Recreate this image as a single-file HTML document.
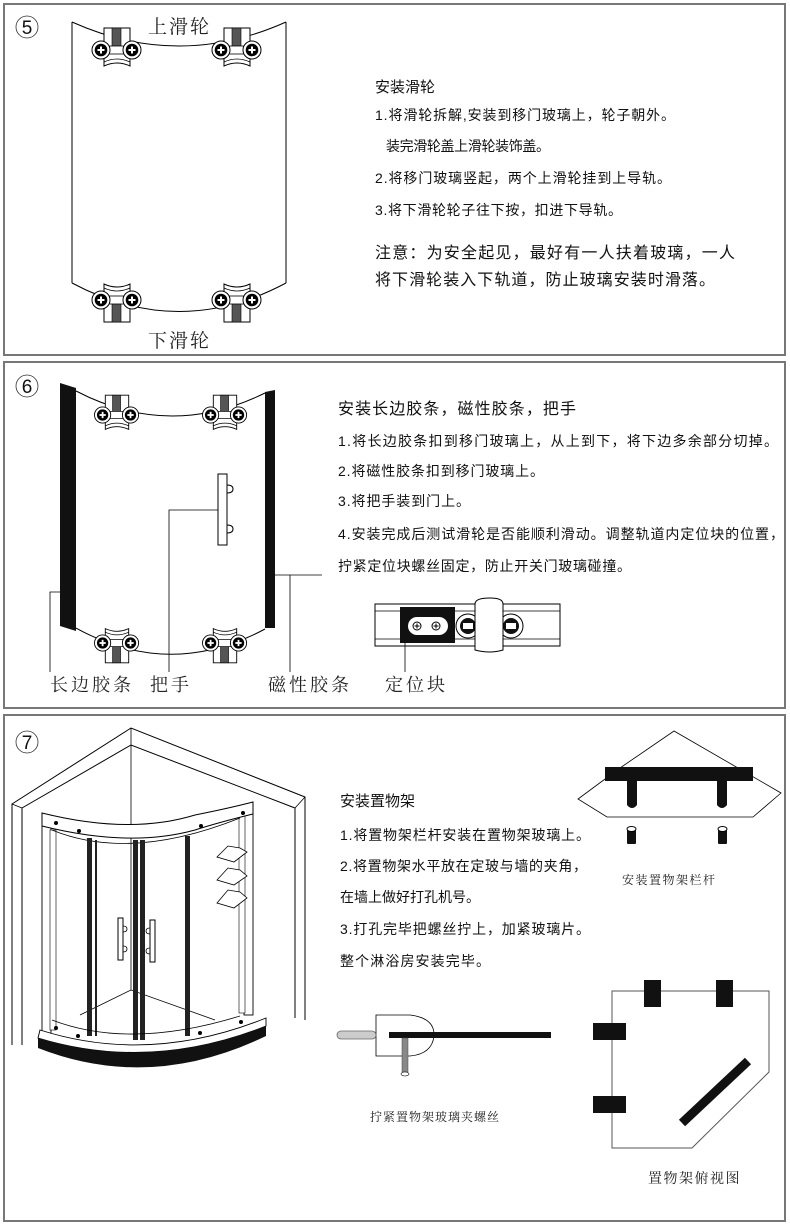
<!DOCTYPE html>
<html><head><meta charset="utf-8"><style>
html,body{margin:0;padding:0;background:#fff;}
svg{display:block;}
.t{font-family:"Liberation Sans","Noto Sans CJK SC",sans-serif;fill:#111;}
.s{font-family:"Liberation Serif","Noto Serif CJK SC",serif;fill:#222;}
</style></head><body>
<svg width="790" height="1226" viewBox="0 0 790 1226" xmlns="http://www.w3.org/2000/svg">
<defs>
<g id="scr">
  <circle r="9" fill="#fff" stroke="#000" stroke-width="1"/>
  <circle r="6.3" fill="#000"/>
  <rect x="-3.5" y="-1" width="7" height="2" fill="#fff"/>
  <rect x="-1" y="-3.5" width="2" height="7" fill="#fff"/>
</g>
<g id="roller">
  <path d="M-13,-22 L13,-22 L13,16 Q0,10 -13,16 Z" fill="#fff" stroke="#000" stroke-width="1"/>
  <path d="M-13,12 Q0,6 13,12" fill="none" stroke="#000" stroke-width="0.8"/>
  <rect x="-5" y="-22" width="9" height="20" fill="#555" stroke="#000" stroke-width="0.6"/>
  <rect x="-8" y="-4" width="16" height="8" fill="#fff" stroke="#000" stroke-width="0.8"/>
  <use href="#scr" x="-16" y="0"/>
  <use href="#scr" x="15" y="0"/>
</g>
</defs>

<!-- panel borders -->
<rect x="4" y="4" width="781" height="351" fill="none" stroke="#777" stroke-width="2"/>
<rect x="4" y="362" width="781" height="346" fill="none" stroke="#777" stroke-width="2"/>
<rect x="4" y="715" width="781" height="506" fill="none" stroke="#777" stroke-width="2"/>

<!-- ===== Panel 5 ===== -->
<circle cx="27" cy="27" r="11" fill="none" stroke="#333" stroke-width="0.8"/>
<text x="27" y="34" class="t" font-size="19" text-anchor="middle">5</text>
<path d="M72,22 L72,283 M286,22 L286,283" stroke="#000" stroke-width="1" fill="none"/>
<path d="M72,22 Q179,70 286,22" stroke="#000" stroke-width="1" fill="none"/>
<path d="M72,283 Q179,340 286,283" stroke="#000" stroke-width="1" fill="none"/>
<use href="#roller" x="117" y="50"/>
<use href="#roller" x="237" y="50"/>
<use href="#roller" transform="translate(117,300) scale(1,-1)"/>
<use href="#roller" transform="translate(237,300) scale(1,-1)"/>
<text x="148" y="33" class="s" font-size="19" letter-spacing="2">上滑轮</text>
<text x="148" y="347" class="s" font-size="19" letter-spacing="2">下滑轮</text>

<text x="375" y="92" class="t" font-size="15">安装滑轮</text>
<text x="375" y="120" class="t" font-size="14" textLength="300">1.将滑轮拆解,安装到移门玻璃上，轮子朝外。</text>
<text x="386" y="151" class="t" font-size="14" textLength="164">装完滑轮盖上滑轮装饰盖。</text>
<text x="375" y="183" class="t" font-size="14" textLength="296">2.将移门玻璃竖起，两个上滑轮挂到上导轨。</text>
<text x="375" y="215" class="t" font-size="14" textLength="247">3.将下滑轮轮子往下按，扣进下导轨。</text>
<text x="375" y="258" class="t" font-size="16" textLength="360">注意：为安全起见，最好有一人扶着玻璃，一人</text>
<text x="375" y="285" class="t" font-size="16" textLength="340">将下滑轮装入下轨道，防止玻璃安装时滑落。</text>

<!-- ===== Panel 6 ===== -->
<circle cx="27" cy="386" r="11" fill="none" stroke="#333" stroke-width="0.8"/>
<text x="27" y="393" class="t" font-size="19" text-anchor="middle">6</text>
<polygon points="60,383 76,388 76,631 60,626" fill="#111"/>
<polygon points="265,392 275,390 275,628 265,628" fill="#111"/>
<path d="M76,391 Q170,440 265,393" stroke="#000" stroke-width="1" fill="none"/>
<path d="M76,628 Q170,680 265,629" stroke="#000" stroke-width="1" fill="none"/>
<use href="#roller" transform="translate(117,415) scale(0.9)"/>
<use href="#roller" transform="translate(225,415) scale(0.9)"/>
<use href="#roller" transform="translate(117,643) scale(0.9,-0.9)"/>
<use href="#roller" transform="translate(225,643) scale(0.9,-0.9)"/>
<rect x="218" y="474" width="9" height="71" fill="#fff" stroke="#000" stroke-width="1"/>
<path d="M227,485 q6,0 6,4 q0,4 -6,4 M227,525 q6,0 6,4 q0,4 -6,4" stroke="#000" fill="none" stroke-width="1"/>
<path d="M60,592 L50,592 L50,672" stroke="#000" fill="none" stroke-width="0.8"/>
<path d="M218,510 L169,510 L169,672" stroke="#000" fill="none" stroke-width="0.8"/>
<path d="M275,575 L322,575" stroke="#000" fill="none" stroke-width="0.8"/>
<path d="M290,575 L290,672" stroke="#000" fill="none" stroke-width="0.8"/>
<text x="50" y="691" class="s" font-size="18" letter-spacing="3">长边胶条</text>
<text x="150" y="691" class="s" font-size="18" letter-spacing="3">把手</text>
<text x="268" y="691" class="s" font-size="18" letter-spacing="3">磁性胶条</text>
<text x="385" y="691" class="s" font-size="18" letter-spacing="3">定位块</text>

<text x="338" y="414" class="t" font-size="16" textLength="238">安装长边胶条，磁性胶条，把手</text>
<text x="338" y="446" class="t" font-size="14" textLength="440">1.将长边胶条扣到移门玻璃上，从上到下，将下边多余部分切掉。</text>
<text x="338" y="476" class="t" font-size="14" textLength="206">2.将磁性胶条扣到移门玻璃上。</text>
<text x="338" y="506" class="t" font-size="14" textLength="132">3.将把手装到门上。</text>
<text x="338" y="539" class="t" font-size="14" textLength="446">4.安装完成后测试滑轮是否能顺利滑动。调整轨道内定位块的位置，</text>
<text x="338" y="571" class="t" font-size="14" textLength="293">拧紧定位块螺丝固定，防止开关门玻璃碰撞。</text>

<!-- track -->
<rect x="375" y="604" width="185" height="42" fill="#fff" stroke="#000" stroke-width="1"/>
<path d="M375,611 L560,611 M375,639 L560,639" stroke="#000" stroke-width="0.8"/>
<rect x="400" y="607" width="55" height="36" fill="#111"/>
<rect x="408" y="617" width="40" height="18" rx="9" fill="#fff"/>
<circle cx="417" cy="626" r="4" fill="#fff" stroke="#000"/><path d="M414.5,626h5M417,623.5v5" stroke="#000"/>
<circle cx="436" cy="626" r="4" fill="#fff" stroke="#000"/><path d="M433.5,626h5M436,623.5v5" stroke="#000"/>
<circle cx="468" cy="626" r="12" fill="#fff" stroke="#000"/><circle cx="468" cy="626" r="8" fill="#111"/><rect x="463" y="623" width="10" height="6" fill="#fff"/>
<circle cx="511" cy="626" r="12" fill="#fff" stroke="#000"/><circle cx="511" cy="626" r="8" fill="#111"/><rect x="506" y="623" width="10" height="6" fill="#fff"/>
<path d="M475,604 Q475,598 490,598 Q503,598 503,604 L503,650 Q490,654 475,650 Z" fill="#fff" stroke="#000" stroke-width="1"/>
<path d="M405,643 L405,672" stroke="#000" stroke-width="0.8"/>

<!-- ===== Panel 7 ===== -->
<circle cx="27" cy="742" r="11" fill="none" stroke="#333" stroke-width="0.8"/>
<text x="27" y="749" class="t" font-size="19" text-anchor="middle">7</text>
<!-- walls -->
<path d="M12,1045 L12,804 L131,728 L305,797 L305,1020" fill="#fff" stroke="#000" stroke-width="1"/>
<path d="M22,1045 L22,808 L131,745 L295,808 L295,1018" fill="none" stroke="#000" stroke-width="1"/>
<path d="M12,804 L22,808 M305,797 L295,808 M131,728 L131,745" stroke="#000" stroke-width="0.8"/>
<path d="M131,745 L131,990" stroke="#000" stroke-width="0.8"/>
<path d="M80,1015 L131,990 L215,1020" stroke="#000" stroke-width="0.8" fill="none"/>
<!-- frame sides -->
<rect x="42" y="815" width="9" height="218" fill="#fff" stroke="#000" stroke-width="0.9"/>
<rect x="50" y="830" width="6" height="200" fill="#fff" stroke="#000" stroke-width="0.6"/>
<rect x="244" y="805" width="9" height="210" fill="#fff" stroke="#000" stroke-width="0.9"/>
<rect x="239" y="815" width="6" height="198" fill="#fff" stroke="#000" stroke-width="0.6"/>
<!-- top header -->
<path d="M42,813 Q130,835 195,815 Q230,808 253,802 L253,814 Q220,822 195,830 Q130,848 42,826 Z" fill="#fff" stroke="#000" stroke-width="1"/>
<path d="M52,830 Q130,862 240,818" fill="none" stroke="#000" stroke-width="0.8"/>
<circle cx="56" cy="823" r="2" fill="#000"/><circle cx="79" cy="831" r="2" fill="#000"/>
<circle cx="201" cy="826" r="2" fill="#000"/><circle cx="243" cy="813" r="2" fill="#000"/>
<!-- doors -->
<rect x="87" y="838" width="5" height="198" fill="#222"/>
<rect x="95" y="840" width="2" height="196" fill="#222"/>
<rect x="133" y="840" width="5" height="200" fill="#222"/>
<rect x="140" y="840" width="5" height="200" fill="#222"/>
<rect x="185" y="836" width="5" height="200" fill="#222"/>
<rect x="118" y="918" width="5" height="42" fill="#fff" stroke="#000"/>
<rect x="150" y="920" width="5" height="42" fill="#fff" stroke="#000"/>
<path d="M123,926 q4,0 4,3 q0,3 -4,3 M123,946 q4,0 4,3 q0,3 -4,3 M150,928 q-4,0 -4,3 q0,3 4,3 M150,948 q-4,0 -4,3 q0,3 4,3" stroke="#000" fill="none" stroke-width="0.8"/>
<!-- bottom track -->
<path d="M52,1020 Q130,1050 240,1016" fill="none" stroke="#000" stroke-width="0.8"/>
<circle cx="56" cy="1028" r="2" fill="#000"/><circle cx="78" cy="1036" r="2" fill="#000"/>
<circle cx="200" cy="1033" r="2" fill="#000"/><circle cx="241" cy="1022" r="2" fill="#000"/>
<path d="M40,1030 Q150,1065 266,1018 L266,1026 Q150,1072 38,1038 Z" fill="#fff" stroke="#000" stroke-width="0.9"/>
<path d="M38,1038 Q150,1072 266,1026 L266,1036 Q150,1092 38,1048 Z" fill="#111"/>
<!-- shelves -->
<g fill="#fff" stroke="#000" stroke-width="0.8">
<path d="M217,857 L228,846 L240,848 L247,852 L234,862 Z"/>
<path d="M217,880 L228,868 L240,870 L247,876 L234,885 Z"/>
<path d="M217,903 L228,890 L240,892 L247,898 L234,908 Z"/>
</g>

<text x="340" y="806" class="t" font-size="15">安装置物架</text>
<text x="340" y="840" class="t" font-size="14" textLength="250">1.将置物架栏杆安装在置物架玻璃上。</text>
<text x="340" y="871" class="t" font-size="14" textLength="247">2.将置物架水平放在定玻与墙的夹角，</text>
<text x="340" y="902" class="t" font-size="14" textLength="140">在墙上做好打孔机号。</text>
<text x="340" y="934" class="t" font-size="14" textLength="250">3.打孔完毕把螺丝拧上，加紧玻璃片。</text>
<text x="340" y="966" class="t" font-size="14" textLength="150">整个淋浴房安装完毕。</text>

<!-- shelf rail -->
<polygon points="674,731 738,768 781,793 753,817 607,817 578,799 620,768" fill="none" stroke="#000" stroke-width="0.8"/>
<rect x="605" y="767" width="148" height="14" fill="#111"/>
<path d="M627,781 L627,805 Q632,811 637,805 L637,781 Z M717,781 L717,805 Q722,811 727,805 L727,781 Z" fill="#111"/>
<rect x="627" y="829" width="9" height="15" rx="1" fill="#111"/><ellipse cx="631.5" cy="829" rx="4.5" ry="2.5" fill="#fff" stroke="#000"/>
<rect x="718" y="829" width="9" height="15" rx="1" fill="#111"/><ellipse cx="722.5" cy="829" rx="4.5" ry="2.5" fill="#fff" stroke="#000"/>
<text x="622" y="884" class="s" font-size="12" letter-spacing="1.5">安装置物架栏杆</text>

<!-- clamp -->
<path d="M376,1015 L410,1015 Q435,1018 434,1036 Q432,1054 410,1056 L376,1056 Z" fill="#fff" stroke="#000" stroke-width="0.8"/>
<rect x="337" y="1031" width="39" height="8" rx="4" fill="#ccc" stroke="#666" stroke-width="0.8"/>
<rect x="389" y="1032" width="162" height="6" fill="#111"/>
<rect x="402" y="1038" width="6" height="34" fill="#888" stroke="#444" stroke-width="0.5"/>
<ellipse cx="405" cy="1074" rx="4" ry="2" fill="#fff" stroke="#000" stroke-width="0.6"/>
<text x="370" y="1121" class="s" font-size="12" letter-spacing="1">拧紧置物架玻璃夹螺丝</text>

<!-- top view -->
<polygon points="612,991 769,991 769,1072 692,1148 612,1148" fill="none" stroke="#555" stroke-width="1"/>
<rect x="644" y="980" width="17" height="27" fill="#111"/>
<rect x="716" y="980" width="17" height="27" fill="#111"/>
<rect x="593" y="1023" width="33" height="17" fill="#111"/>
<rect x="593" y="1096" width="33" height="17" fill="#111"/>
<line x1="748" y1="1061" x2="682" y2="1123" stroke="#111" stroke-width="9"/>
<text x="648" y="1183" class="s" font-size="14" letter-spacing="1.5">置物架俯视图</text>
</svg>
</body></html>
